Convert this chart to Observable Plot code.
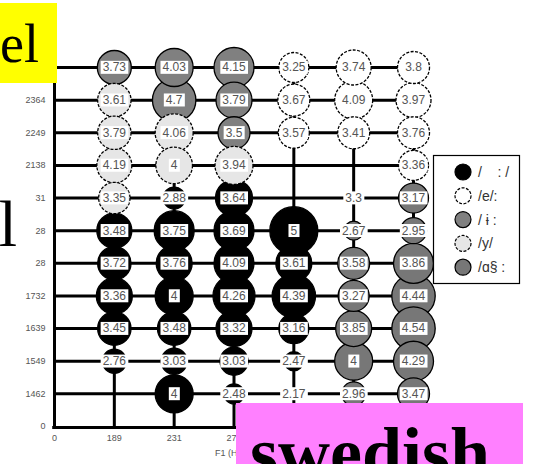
<!DOCTYPE html>
<html>
<head>
<meta charset="utf-8">
<script src="https://cdn.jsdelivr.net/npm/d3@7"></script>
<script src="https://cdn.jsdelivr.net/npm/@observablehq/plot@0.6"></script>
<style>
  html, body { margin: 0; padding: 0; background: #fff; }
  #wrap { position: relative; width: 539px; height: 464px; overflow: hidden; background: #fff; }
  #chart, #over { position: absolute; left: 0; top: 0; }
</style>
</head>
<body>
<div id="wrap">
  <div id="chart"></div>
  <svg id="over" width="539" height="464"></svg>
</div>
<script>
// ---- data ----
const colPos = [1, 2, 3, 4, 5, 6];
const colLabels = ["189", "231", "276", "", "", ""];
const rowPos = [0, 1, 2, 3, 4, 5, 6, 7, 8, 9, 10, 11];
const rowLabels = ["0", "1462", "1549", "1639", "1732", "28", "28", "31", "2138", "2249", "2364", ""];

const vowelKeys = ["i", "e", "u", "y", "a"];
const vowelLabels = ["/    : /", "/e/:", "/ ɨ :", "/y/", "/ɑ§ :"];
const vowelFills = ["#000000", "#ffffff", "#808080", "#e6e6e6", "#777777"];
const vowelDashed = [false, true, false, true, false];

// rows listed from top (row 11) to bottom (row 1), columns 1..6
const cellValues = [
  ["3.73", "4.03", "4.15", "3.25", "3.74", "3.8"],
  ["3.61", "4.7", "3.79", "3.67", "4.09", "3.97"],
  ["3.79", "4.06", "3.5", "3.57", "3.41", "3.76"],
  ["4.19", "4", "3.94", "", "", "3.36"],
  ["3.35", "2.88", "3.64", "", "3.3", "3.17"],
  ["3.48", "3.75", "3.69", "5", "2.67", "2.95"],
  ["3.72", "3.76", "4.09", "3.61", "3.58", "3.86"],
  ["3.36", "4", "4.26", "4.39", "3.27", "4.44"],
  ["3.45", "3.48", "3.32", "3.16", "3.85", "4.54"],
  ["2.76", "3.03", "3.03", "2.47", "4", "4.29"],
  ["", "4", "2.48", "2.17", "2.96", "3.47"]
];
const cellCounts = [
  [17, 19, 20, 15, 17.5, 16],
  [16.7, 21.7, 18, 16, 19, 17.5],
  [16.7, 19, 16, 15.5, 16, 16],
  [17.5, 18.3, 19, 0, 0, 15],
  [15.7, 11, 18.5, 0, 5, 15],
  [17.5, 20, 20, 24, 9.5, 13],
  [16.7, 18, 20, 18, 16, 20],
  [18, 19, 21, 21.7, 15.5, 21.7],
  [16.7, 16.7, 18, 15, 18, 21.7],
  [12, 13, 14, 9.5, 19, 20],
  [0, 19, 10, 5, 12, 16]
];
const cellVowels = [
  ["u", "u", "u", "e", "e", "e"],
  ["y", "u", "u", "e", "e", "e"],
  ["y", "y", "u", "e", "e", "e"],
  ["y", "y", "y", "", "", "e"],
  ["y", "i", "i", "", "e", "a"],
  ["i", "i", "i", "i", "a", "a"],
  ["i", "i", "i", "i", "a", "a"],
  ["i", "i", "i", "i", "a", "a"],
  ["i", "i", "i", "i", "a", "a"],
  ["i", "i", "i", "i", "a", "a"],
  ["", "i", "i", "i", "a", "a"]
];

// ---- build table ----
const cells = [];
cellValues.forEach((row, ri) => {
  row.forEach((label, ci) => {
    const v = cellVowels[ri][ci];
    if (!v) return;
    cells.push({x: colPos[ci], y: 11 - ri, label, n: cellCounts[ri][ci], v});
  });
});
const order = ["i", "u", "a", "y", "e"];
const dashedSet = new Set(vowelKeys.filter((k, i) => vowelDashed[i]));
const solid = cells.filter(d => d.n > 0 && !dashedSet.has(d.v)).sort((a, b) => order.indexOf(a.v) - order.indexOf(b.v));
const dashed = cells.filter(d => d.n > 0 && dashedSet.has(d.v));
const labelled = cells.filter(d => d.label);
const xTicks = [0, ...colPos].filter(d => d === 0 || colLabels[d - 1]);
const yTicks = rowPos.filter(d => rowLabels[d]);

const font = "'Liberation Sans', Arial, 'DejaVu Sans', sans-serif";

const plot = Plot.plot({
  width: 539,
  height: 464,
  marginLeft: 54,
  marginRight: 126,
  marginTop: 67,
  marginBottom: 38,
  style: {background: "transparent", fontFamily: font},
  x: {domain: [0, 6], axis: null},
  y: {domain: [0, 11], axis: null},
  r: {type: "linear", domain: [0, 24], range: [0, 24]},
  color: {domain: vowelKeys, range: vowelFills},
  marks: [
    Plot.ruleY(rowPos.slice(1), {x1: 0, x2: 6, stroke: "#000", strokeWidth: 3}),
    Plot.ruleX(colPos, {y1: 0, y2: 11, stroke: "#000", strokeWidth: 3}),
    Plot.ruleX([0], {y1: -0.05, y2: 11.5, stroke: "#000", strokeWidth: 3}),
    Plot.ruleY([0], {x1: -0.03, x2: 6, dy: 1, stroke: "#000", strokeWidth: 3}),
    Plot.dot(solid, {x: "x", y: "y", r: "n", fill: "v", stroke: "#000", strokeWidth: 1.3}),
    Plot.dot(dashed, {x: "x", y: "y", r: "n", fill: "v", stroke: "#000", strokeWidth: 1.3, strokeDasharray: "3,1.5"}),
    Plot.text(labelled, {x: "x", y: "y", text: "label", fill: "#555", fontSize: 12, fontFamily: font, ariaLabel: "cell labels"}),
    Plot.text(yTicks, {x: 0, y: d => d, text: d => rowLabels[d], dx: -9, textAnchor: "end", fill: "#555", fontSize: 9, fontFamily: font}),
    Plot.text(xTicks, {x: d => d, y: 0, text: d => d === 0 ? "0" : colLabels[d - 1], dy: 12, fill: "#555", fontSize: 9, fontFamily: font}),
    Plot.text(["F1 (Hz)"], {frameAnchor: "bottom", dy: 29, dx: -4, fill: "#555", fontSize: 9, fontFamily: font})
  ]
});
document.getElementById("chart").appendChild(plot);

// white label boxes behind the cell labels
const ns = "http://www.w3.org/2000/svg";
const labelSet = new Set(labelled.map(d => d.label));
let lg = plot.querySelector('g[aria-label="cell labels"]');
if (!lg) {
  lg = Array.from(plot.querySelectorAll("g")).find(g => g.getAttribute("font-size") === "12" ||
    (g.querySelectorAll(":scope > text").length === labelled.length));
}
const targets = lg ? Array.from(lg.querySelectorAll("text")) :
  Array.from(plot.querySelectorAll("text")).filter(t => labelSet.has(t.textContent) && t.textContent.includes("."));
targets.forEach(t => {
  const b = t.getBBox();
  const rect = document.createElementNS(ns, "rect");
  rect.setAttribute("x", b.x - 2);
  rect.setAttribute("y", b.y + 0.5);
  rect.setAttribute("width", b.width + 4);
  rect.setAttribute("height", b.height - 1);
  rect.setAttribute("fill", "#fff");
  const tr = t.getAttribute("transform");
  if (tr) rect.setAttribute("transform", tr);
  t.parentNode.insertBefore(rect, t);
});

// ---- legend ----
const over = d3.select("#over");
const leg = over.append("g");
leg.append("rect").attr("x", 433.5).attr("y", 155.5).attr("width", 86).attr("height", 128)
  .attr("fill", "#fff").attr("stroke", "#000").attr("stroke-width", 1.2);
const items = leg.selectAll("g.item").data(vowelKeys).join("g")
  .attr("transform", (d, i) => `translate(463,${172 + i * 23.8})`);
items.append("circle").attr("r", 8)
  .attr("fill", (d, i) => vowelFills[i]).attr("stroke", "#000").attr("stroke-width", 1.2)
  .attr("stroke-dasharray", (d, i) => vowelDashed[i] ? "3,1.5" : null);
items.append("text").attr("x", 15).attr("dy", "0.36em")
  .attr("font-family", font).attr("font-size", 14).attr("fill", "#333")
  .style("white-space", "pre")
  .text((d, i) => vowelLabels[i]);

// ---- slide overlays ----
over.append("rect").attr("x", 0).attr("y", 3).attr("width", 57).attr("height", 80).attr("fill", "#ffff00");
over.append("text").attr("x", 0).attr("y", 62).attr("font-family", "'Liberation Serif', 'Times New Roman', serif")
  .attr("font-size", 54).attr("fill", "#000").text("el");
over.append("text").attr("x", 17).attr("y", 246).attr("text-anchor", "end")
  .attr("font-family", "'Liberation Serif', 'Times New Roman', serif")
  .attr("font-size", 66).attr("fill", "#000").text("l");
over.append("rect").attr("x", 236).attr("y", 403).attr("width", 287).attr("height", 61).attr("fill", "#ff80ff");
over.append("text").attr("x", 250).attr("y", 477).attr("font-family", "'Liberation Serif', 'Times New Roman', serif")
  .attr("font-weight", "bold").attr("font-size", 72).attr("fill", "#000").text("swedish");
</script>
</body>
</html>
